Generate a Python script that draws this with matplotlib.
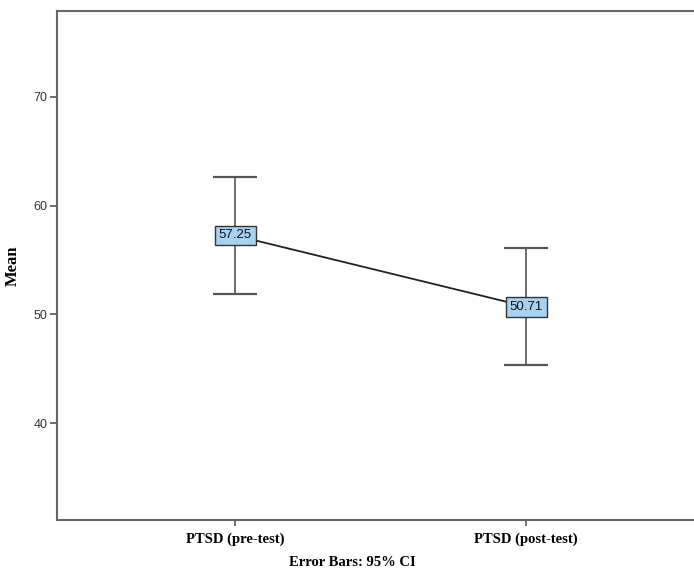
import numpy as np
import matplotlib.pyplot as plt

groups = ["PTSD (pre-test)", "PTSD (post-test)"]
means = [57.25, 50.71]
ci_low = [51.84, 45.36]
ci_high = [62.67, 56.07]

fig = plt.figure(figsize=(6.94, 5.71), dpi=100)
ax = fig.add_axes([57 / 694, 1 - 520 / 571, 650 / 694, 509 / 571])

x = np.arange(len(groups))
m = np.array(means)
err = np.array([m - np.array(ci_low), np.array(ci_high) - m])

ax.errorbar(x, m, yerr=err, fmt='none', ecolor='#555555', elinewidth=1.2,
            capsize=15.5, capthick=1.6, zorder=2)
ax.plot(x, m, color='#222222', linewidth=1.3, zorder=3)
for xi, mi in zip(x, means):
    ax.text(xi, mi, "%.2f" % mi, ha='center', va='center', fontsize=9.5,
            family='Liberation Sans', color='#111111', zorder=4,
            bbox=dict(boxstyle='square,pad=0.3', facecolor='#a9d1f0',
                      edgecolor='#333333', linewidth=1.0))

ax.set_xlim(-0.612, 1.621)
ax.set_ylim(31.08, 77.9)
ax.set_yticks([40, 50, 60, 70])
ax.set_xticks(x)
ax.set_xticklabels(groups, family='Liberation Serif', fontweight='bold', fontsize=10.5)
for lab in ax.get_yticklabels():
    lab.set_family('Liberation Sans')
    lab.set_fontsize(9)
    lab.set_color('#333333')
ax.tick_params(axis='y', length=5, width=1.2, color='#555555', pad=2)
ax.tick_params(axis='x', length=4, width=1.2, color='#555555', pad=5)
for s in ['left', 'bottom', 'top']:
    ax.spines[s].set_color('#666666')
    ax.spines[s].set_linewidth(1.5)
ax.spines['right'].set_visible(False)

ax.set_ylabel("Mean", family='Liberation Serif', fontweight='bold', fontsize=12, labelpad=9)
fig.text(352 / 694, 1 - 563 / 571, "Error Bars: 95% CI", ha='center', va='center',
         family='Liberation Serif', fontweight='bold', fontsize=10.5)

fig.savefig("out.png", dpi=100)
